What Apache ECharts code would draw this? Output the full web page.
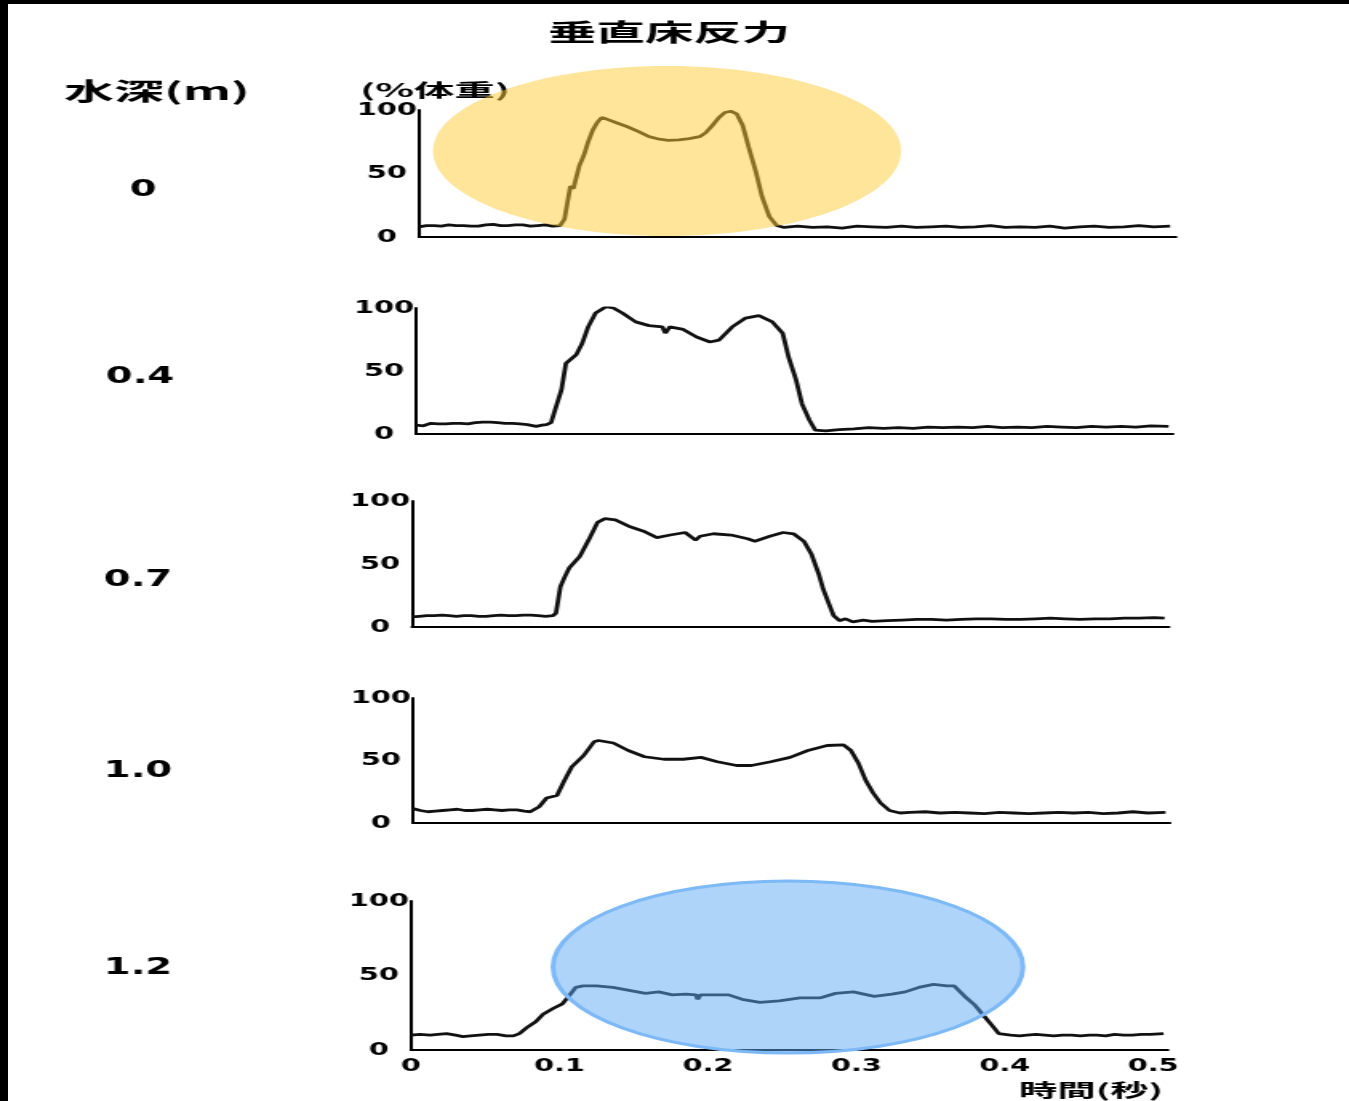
<!DOCTYPE html>
<html>
<head>
<meta charset="utf-8">
<script src="https://cdn.jsdelivr.net/npm/echarts@6/dist/echarts.min.js"></script>
<style>
    html, body { margin: 0; padding: 0; width: 1349px; height: 1101px; overflow: hidden; background: #000; }
    #chart { position: absolute; left: 8px; top: 4px; width: 838px; height: 1097px; background: #fff; transform-origin: 0 0; filter: blur(0.4px); }
</style>
</head>
<body>
<div id="chart"></div>
<script>
// 垂直床反力 (%体重) vs 時間(秒), one trace per water depth
const depthLabels = ['0', '0.4', '0.7', '1.0', '1.2'];
const xTickStep = 0.1;   // 0, 0.1 ... 0.5
const yTickStep = 50;    // 0, 50, 100

// depth 0 m
const t1 = [0, 0.005, 0.01, 0.015, 0.02, 0.025, 0.03, 0.035, 0.04, 0.045,
    0.05, 0.055, 0.06, 0.065, 0.07, 0.075, 0.08, 0.085, 0.09, 0.095,
    0.098, 0.100, 0.102, 0.104, 0.106, 0.108, 0.111, 0.114, 0.117, 0.120,
    0.123, 0.126, 0.133, 0.140, 0.148, 0.155, 0.162, 0.168, 0.175, 0.182,
    0.189, 0.193, 0.197, 0.202, 0.206, 0.210, 0.214, 0.218, 0.222, 0.227,
    0.231, 0.236, 0.241, 0.246, 0.255, 0.265, 0.275, 0.285, 0.295, 0.305,
    0.315, 0.325, 0.335, 0.345, 0.355, 0.365, 0.375, 0.385, 0.395, 0.405,
    0.415, 0.425, 0.435, 0.445, 0.455, 0.465, 0.475, 0.485, 0.495, 0.506];
const v1 = [8, 9, 9, 8.5, 9.5, 9, 9, 8.5, 8.5, 9.5,
    10, 9, 9, 9.5, 9.5, 8.5, 9, 9.5, 8.5, 9,
    14, 27, 40, 38, 47, 56, 64, 75, 84, 90,
    94, 93, 90, 87, 83, 79, 77, 76, 76.5, 77.5,
    79, 82, 87, 94, 98, 99, 97, 88, 71, 51,
    32, 16, 9, 7.5, 8.5, 7.5, 8, 7, 8.5, 8,
    7.5, 8.5, 7.5, 8, 8.5, 7.5, 8, 9, 7.5, 8,
    7.5, 8.5, 7, 8, 8.5, 7.5, 8, 9, 8, 8.5];

// depth 0.4 m
const t2 = [0, 0.005, 0.01, 0.015, 0.02, 0.025, 0.03, 0.035, 0.04, 0.045,
    0.05, 0.055, 0.06, 0.065, 0.07, 0.075, 0.081, 0.085, 0.088, 0.091,
    0.095, 0.098, 0.101, 0.105, 0.108, 0.112, 0.116, 0.121, 0.128, 0.133,
    0.139, 0.148, 0.157, 0.166, 0.168, 0.171, 0.180, 0.189, 0.198, 0.204,
    0.213, 0.222, 0.231, 0.240, 0.247, 0.251, 0.256, 0.260, 0.265, 0.269,
    0.276, 0.285, 0.295, 0.305, 0.315, 0.325, 0.335, 0.345, 0.355, 0.365,
    0.375, 0.385, 0.395, 0.405, 0.415, 0.425, 0.435, 0.445, 0.455, 0.465,
    0.475, 0.485, 0.495, 0.507];
const v2 = [7, 6.5, 8.5, 8, 8, 8.5, 8.5, 8, 9, 9.5,
    9.5, 9, 8.5, 8.5, 8, 7.5, 6, 7, 7.5, 9,
    24, 35, 56, 60, 63, 72, 85, 96, 101, 100,
    96, 89, 86, 85, 80, 85, 83, 77, 73, 74.5,
    85, 92, 94, 89, 80, 61, 43, 24, 11, 3,
    2.5, 3.5, 4, 5, 4.5, 5, 4.5, 5.5, 5, 5.5,
    5, 6, 5, 5.5, 5, 6, 5.5, 5, 6, 5.5,
    6, 5.5, 6.5, 6];

// depth 0.7 m
const t3 = [0, 0.005, 0.01, 0.015, 0.02, 0.025, 0.03, 0.035, 0.04, 0.045,
    0.05, 0.055, 0.06, 0.065, 0.07, 0.075, 0.08, 0.085, 0.09, 0.095,
    0.097, 0.100, 0.103, 0.106, 0.113, 0.119, 0.125, 0.130, 0.137, 0.146,
    0.156, 0.165, 0.174, 0.184, 0.191, 0.194, 0.203, 0.215, 0.226, 0.231,
    0.241, 0.250, 0.257, 0.264, 0.269, 0.274, 0.277, 0.281, 0.284, 0.288,
    0.292, 0.297, 0.304, 0.31, 0.32, 0.33, 0.34, 0.35, 0.36, 0.37,
    0.38, 0.39, 0.40, 0.41, 0.42, 0.43, 0.44, 0.45, 0.46, 0.47,
    0.48, 0.49, 0.50, 0.507];
const v3 = [8, 8.5, 9, 9, 9.5, 9, 8.5, 9, 9, 8.5,
    8.5, 9, 9.5, 9, 9, 9.5, 9.5, 9, 8.5, 9,
    11, 32, 40, 47, 56, 69, 83, 86, 85, 80,
    76, 71, 73, 75, 69, 72, 74, 73, 70, 68,
    72, 75, 74, 68, 58, 42, 30, 18, 9, 5,
    6.5, 4, 5.5, 4.5, 5, 5.5, 6, 6, 5.5, 6,
    6.5, 6.5, 6, 6, 6.5, 7, 6.5, 6, 6.5, 6.5,
    7, 7, 7.5, 7];

// depth 1.0 m
const t4 = [0, 0.005, 0.01, 0.015, 0.02, 0.025, 0.03, 0.035, 0.04, 0.045,
    0.05, 0.055, 0.06, 0.065, 0.07, 0.075, 0.079, 0.085, 0.090, 0.097,
    0.102, 0.107, 0.115, 0.122, 0.125, 0.135, 0.145, 0.156, 0.169, 0.182,
    0.194, 0.205, 0.218, 0.228, 0.241, 0.254, 0.266, 0.279, 0.290, 0.295,
    0.300, 0.305, 0.310, 0.315, 0.321, 0.328, 0.335, 0.345, 0.355, 0.365,
    0.375, 0.385, 0.395, 0.405, 0.415, 0.425, 0.435, 0.445, 0.455, 0.465,
    0.475, 0.485, 0.495, 0.507];
const v4 = [11.5, 10, 9, 9.5, 10, 10.5, 11, 10, 10, 10.5,
    11, 10.5, 10, 10.5, 10.5, 9.5, 9, 13, 20, 22,
    34, 45, 54, 65, 66, 64, 58, 53, 51, 51,
    52.5, 49, 46, 46, 49, 52.5, 58, 62, 62.5, 58,
    48, 34, 24, 16, 10, 8, 8.5, 9, 8, 8.5,
    8, 7.5, 8.5, 8, 7.5, 8, 8.5, 8, 8.5, 7.5,
    8, 9, 8, 8.5];

// depth 1.2 m
const t5 = [0, 0.006, 0.013, 0.018, 0.024, 0.030, 0.035, 0.040, 0.046, 0.052,
    0.058, 0.064, 0.069, 0.073, 0.078, 0.084, 0.089, 0.096, 0.102, 0.107,
    0.111, 0.116, 0.125, 0.136, 0.147, 0.158, 0.167, 0.176, 0.185, 0.192,
    0.193, 0.195, 0.203, 0.214, 0.223, 0.235, 0.248, 0.262, 0.276, 0.286,
    0.298, 0.312, 0.324, 0.333, 0.342, 0.352, 0.361, 0.366, 0.373, 0.380,
    0.385, 0.391, 0.396, 0.404, 0.410, 0.415, 0.421, 0.427, 0.433, 0.439,
    0.445, 0.451, 0.457, 0.462, 0.468, 0.474, 0.480, 0.486, 0.492, 0.498,
    0.507];
const v5 = [10, 10.5, 10, 10.5, 11, 10, 9, 9.5, 10, 10.5,
    10.5, 9.5, 9.5, 11, 15, 19, 24, 28, 31, 37,
    42, 43, 43, 42, 40, 38, 39, 37, 37.5, 37,
    34, 37, 37, 37, 34, 32, 33, 35, 35, 38,
    39, 36, 37.5, 39, 42, 44, 43, 43, 36, 30,
    24, 17, 11, 10, 9.5, 10, 10.5, 10, 9.5, 10,
    10, 9.5, 10, 10, 9.5, 10.5, 10, 10, 10.5, 10.5,
    11];

const times = [t1, t2, t3, t4, t5];
const forces = [v1, v2, v3, v4, v5];

// the scanned figure is stretched sideways, so the canvas is too
const S = 1341 / 838;
const ux = X => (X - 8) / S;   // page x -> canvas x
const uy = Y => Y - 4;         // page y -> canvas y

// page pixel layout of each small plot (y axis x, top = 100, bottom = 0)
const panels = [
    {left: 419, top: 110, bottom: 237, labelY: 190, labelX: 143},
    {left: 416, top: 308, bottom: 434, labelY: 377, labelX: 140},
    {left: 412, top: 501, bottom: 627, labelY: 580, labelX: 138},
    {left: 413, top: 698, bottom: 823, labelY: 771, labelX: 138},
    {left: 411, top: 901, bottom: 1050, labelY: 968, labelX: 138}
];
const plotWidth = 757; // page px for 0 .. 0.51 s

const numFont = {color: '#000', fontFamily: 'DejaVu Sans', fontWeight: 'bold', fontSize: 18};

let chartDom = document.getElementById('chart');
chartDom.style.transform = 'scaleX(' + S + ')';
let chart = echarts.init(chartDom);

let grid = [], xAxis = [], yAxis = [], series = [], graphic = [];

panels.forEach((p, i) => {
    grid.push({
        left: ux(p.left), top: uy(p.top), width: plotWidth / S, height: p.bottom - p.top,
        containLabel: false
    });
    xAxis.push({
        type: 'value', gridIndex: i, min: 0, max: 0.51, interval: xTickStep,
        axisLine: {show: true, onZero: false, lineStyle: {color: '#000', width: 2}},
        axisTick: {show: false},
        splitLine: {show: false},
        axisLabel: Object.assign({show: i === 4, showMaxLabel: false, margin: 7}, numFont)
    });
    yAxis.push({
        type: 'value', gridIndex: i, min: 0, max: 100, interval: yTickStep,
        axisLine: {show: true, lineStyle: {color: '#000', width: 2}},
        axisTick: {show: false},
        splitLine: {show: false},
        axisLabel: Object.assign({align: 'center', margin: 20}, numFont)
    });
    series.push({
        type: 'line', xAxisIndex: i, yAxisIndex: i,
        data: times[i].map((t, k) => [t, forces[i][k]]),
        showSymbol: false, symbol: 'none',
        lineStyle: {color: '#111', width: 2.8},
        z: 2
    });
    graphic.push({
        type: 'text', x: ux(p.labelX), y: uy(p.labelY), scaleX: 1.05, z: 20,
        style: {text: depthLabels[i], fill: '#000', fontFamily: 'DejaVu Sans', fontWeight: 'bold', fontSize: 23,
            align: 'center', verticalAlign: 'middle'}
    });
});

const cjk = '"Noto Sans CJK JP"';
graphic.push(
    {type: 'text', x: ux(669), y: uy(32), scaleX: 1.26, z: 20,
        style: {text: '垂直床反力', fill: '#000', fontFamily: cjk, fontWeight: 'bold', fontSize: 24, align: 'center', verticalAlign: 'middle'}},
    {type: 'text', x: ux(157), y: uy(91), scaleX: 1.3, z: 20,
        style: {text: '水深(m)', fill: '#000', fontFamily: cjk, fontWeight: 'bold', fontSize: 24, align: 'center', verticalAlign: 'middle'}},
    {type: 'text', x: ux(435), y: uy(90), scaleX: 1.4, z: 20,
        style: {text: '(%体重)', fill: '#000', fontFamily: cjk, fontWeight: 'bold', fontSize: 18, align: 'center', verticalAlign: 'middle'}},
    {type: 'text', x: ux(1091), y: uy(1090), scaleX: 1.33, z: 20,
        style: {text: '時間(秒)', fill: '#000', fontFamily: cjk, fontWeight: 'bold', fontSize: 18, align: 'center', verticalAlign: 'middle'}},
    // highlight marks
    {type: 'ellipse', z: 30,
        shape: {cx: ux(667), cy: uy(151), rx: 234 / S, ry: 85},
        style: {fill: 'rgba(253,203,51,0.5)'}},
    {type: 'ellipse', z: 30,
        shape: {cx: ux(788), cy: uy(967), rx: 235 / S, ry: 86},
        style: {fill: 'rgba(93,169,245,0.5)', stroke: '#7db9f6', lineWidth: 3}}
);

let option = {
    backgroundColor: '#fff',
    animation: false,
    grid: grid,
    xAxis: xAxis,
    yAxis: yAxis,
    series: series,
    graphic: graphic
};

chart.setOption(option);
</script>
</body>
</html>
